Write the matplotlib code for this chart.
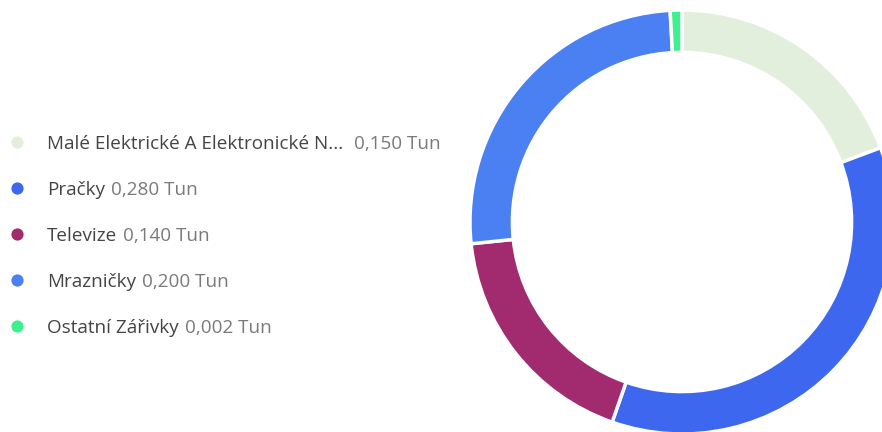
import numpy as np
import matplotlib.pyplot as plt

plt.rcParams['font.family'] = ['Open Sans', 'DejaVu Sans']

labels = ['Malé Elektrické A Elektronické N...', 'Pračky', 'Televize',
          'Mrazničky', 'Ostatní Zářivky']
values = np.array([0.150, 0.280, 0.140, 0.200, 0.002])
colors = ['#e1efdc', '#3c67ee', '#a22a6e', '#4a80f2', '#3ff08f']
unit = 'Tun'

W, H = 882, 432
fig = plt.figure(figsize=(W / 100, H / 100), dpi=100)

# donut: the chart library keeps a minimum visible angle for tiny slices
shown = np.maximum(values, values.sum() * 0.009)
cx, cy, r = 682, 222, 212
ax = fig.add_axes([(cx - r) / W, (H - cy - r) / H, 2 * r / W, 2 * r / H])
ax.pie(shown, colors=colors, startangle=90, counterclock=False, radius=1,
       wedgeprops=dict(width=0.2, edgecolor='white', linewidth=2.5))
ax.set_xlim(-1, 1)
ax.set_ylim(-1, 1)
ax.set_aspect('equal')
ax.axis('off')

# legend drawn in pixel space
lax = fig.add_axes([0, 0, 1, 1])
lax.set_xlim(0, W)
lax.set_ylim(H, 0)
lax.axis('off')
y0, dy = 142, 46
fs = 13.6
for i, (lab, val, col) in enumerate(zip(labels, values, colors)):
    y = y0 + i * dy
    lax.plot(17, y, 'o', color=col, markersize=8.8, markeredgewidth=0)
    t = lax.text(47, y, lab, fontsize=fs, color='#444444', va='center_baseline')
    gap = 11 if lab.endswith('...') else 6
    lax.annotate(f'{val:.3f}'.replace('.', ',') + ' ' + unit, xy=(1, 0),
                 xycoords=t, xytext=(gap, 0), textcoords='offset pixels',
                 fontsize=fs, color='#7a7a7a', va='bottom')

fig.savefig('out.png', dpi=100)
